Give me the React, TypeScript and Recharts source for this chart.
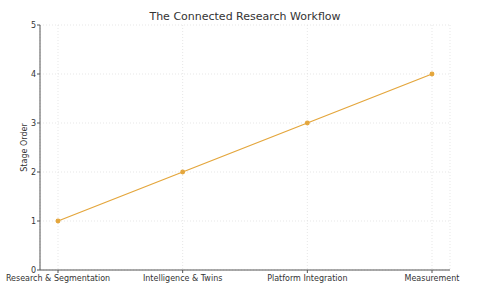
import React from 'react';
import { LineChart, Line, XAxis, YAxis, CartesianGrid, Label } from 'recharts';

const stages = ['Research & Segmentation', 'Intelligence & Twins', 'Platform Integration', 'Measurement'];
const stageOrder = [1, 2, 3, 4];
const yTicks = [0, 1, 2, 3, 4, 5];

const data = stages.map((stage, i) => ({ stage, order: stageOrder[i] }));

const font = 'DejaVu Sans, sans-serif';

export default function App() {
  return (
    <div style={{ position: 'absolute', left: 0, top: 0, width: 480, height: 295, background: '#fff', fontFamily: font }}>
      <div style={{ position: 'absolute', top: 10, width: 490, textAlign: 'center', fontSize: 11, color: '#333' }}>
        The Connected Research Workflow
      </div>
      <LineChart width={480} height={295} data={data} margin={{ top: 25, right: 30, left: 0, bottom: 0 }}>
        <CartesianGrid stroke="#ddd" strokeDasharray="1 2" strokeWidth={0.7} />
        <XAxis
          dataKey="stage"
          height={25}
          padding={{ left: 18, right: 18 }}
          interval={0}
          tick={{ fontSize: 8, fill: '#333', fontFamily: font }}
          tickSize={3}
          tickMargin={2}
          stroke="#555"
        />
        <YAxis
          domain={[0, 5]}
          ticks={yTicks}
          width={40}
          tick={{ fontSize: 8, fill: '#333', fontFamily: font }}
          tickSize={3}
          tickMargin={1}
          stroke="#555"
        >
          <Label value="Stage Order" angle={-90} position="insideLeft" offset={24} style={{ fontSize: 8, fill: '#333', textAnchor: 'middle', fontFamily: font }} />
        </YAxis>
        <Line
          type="linear"
          dataKey="order"
          stroke="#e4a63c"
          strokeWidth={1.3}
          dot={{ r: 1.8, fill: '#e4a63c', stroke: '#e4a63c' }}
          isAnimationActive={false}
        />
      </LineChart>
    </div>
  );
}
